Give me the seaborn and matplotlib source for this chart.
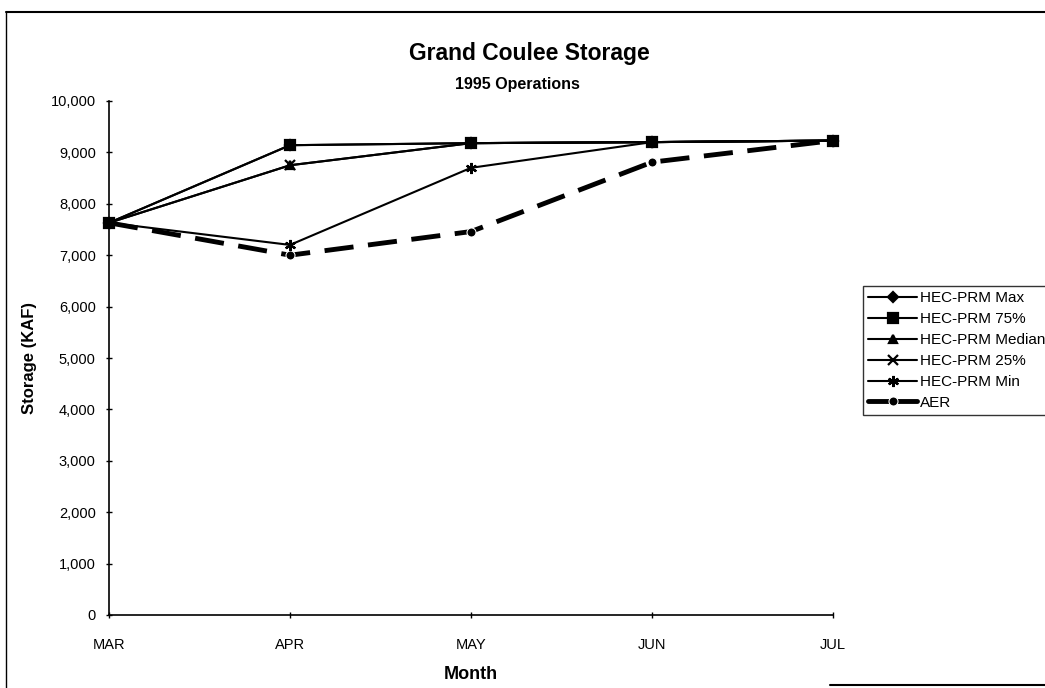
import matplotlib
matplotlib.use("Agg")
import matplotlib.pyplot as plt
from matplotlib.lines import Line2D
import seaborn as sns

months = ["MAR", "APR", "MAY", "JUN", "JUL"]
hec_max = [7630, 9140, 9180, 9200, 9230]
hec_75 = [7630, 9140, 9180, 9200, 9230]
hec_median = [7630, 8750, 9180, 9200, 9230]
hec_25 = [7630, 8750, 9180, 9200, 9230]
hec_min = [7630, 7200, 8700, 9200, 9230]
aer = [7630, 7000, 7460, 8810, 9230]

sns.set_style("white")
plt.rcParams["font.family"] = ["Liberation Sans", "DejaVu Sans"]
for k in ["text.color", "axes.labelcolor", "xtick.color", "ytick.color"]:
    plt.rcParams[k] = "black"

fig = plt.figure(figsize=(10.45, 6.88), dpi=100)
ax = fig.add_axes([109 / 1045, 1 - 615 / 688, (833 - 109) / 1045, (615 - 101) / 688])

x = list(range(len(months)))
series = [
    ("HEC-PRM Max", hec_max, "D", 5),
    ("HEC-PRM 75%", hec_75, "s", 6.5),
    ("HEC-PRM Median", hec_median, "^", 6),
    ("HEC-PRM 25%", hec_25, "x", 7),
    ("HEC-PRM Min", hec_min, (6, 2, 0), 8),
]
for name, vals, mk, ms in series:
    sns.lineplot(x=x, y=vals, ax=ax, color="black", lw=1.5, marker=mk,
                 markersize=ms, markeredgecolor="black", markeredgewidth=1.6,
                 label=name, clip_on=False, zorder=3)
sns.lineplot(x=x, y=aer, ax=ax, color="black", lw=3.5, marker="o",
             markersize=6.5, linestyle=(0, (6, 3)), label="AER", clip_on=False,
             zorder=2)

ax.set_xlim(0, 4)
ax.set_ylim(0, 10000)
ax.set_xticks(x)
ax.set_xticklabels(months, fontsize=10.5)
ax.set_yticks(range(0, 10001, 1000))
ax.set_yticklabels([f"{v:,}" for v in range(0, 10001, 1000)], fontsize=10.5)
ax.tick_params(axis="y", direction="inout", length=5, width=1, left=True, pad=7)
ax.tick_params(axis="x", direction="inout", length=5, width=1, bottom=True, pad=14)
for s in ["top", "right"]:
    ax.spines[s].set_visible(False)
for s in ["left", "bottom"]:
    ax.spines[s].set_color("black")
    ax.spines[s].set_linewidth(1.2)

ax.set_xlabel("Month", fontsize=13, fontweight="bold", labelpad=10)
ax.set_ylabel("Storage (KAF)", fontsize=12, fontweight="bold", labelpad=10)
fig.text(0.507, 1 - 60 / 688, "Grand Coulee Storage", ha="center", va="baseline",
         fontsize=16.5, fontweight="bold")
fig.text(0.495, 1 - 89 / 688, "1995 Operations", ha="center", va="baseline",
         fontsize=11.5, fontweight="bold")

leg = ax.legend(loc="upper left", bbox_to_anchor=(863 / 1045, 1 - 286 / 688),
                bbox_transform=fig.transFigure, fontsize=11, frameon=True,
                fancybox=False, edgecolor="black", handlelength=3.2,
                handletextpad=0.2, borderpad=0.35, labelspacing=0.45,
                borderaxespad=0)
leg.get_frame().set_linewidth(1)
leg.get_lines()[-1].set_linestyle("-")

# scanned page border
fig.add_artist(Line2D([6 / 1045, 6 / 1045], [0, 1 - 12 / 688], color="black", lw=1))
fig.add_artist(Line2D([6 / 1045, 1], [1 - 12 / 688, 1 - 12 / 688], color="black", lw=1.5))
fig.add_artist(Line2D([830 / 1045, 1], [1 - 685 / 688, 1 - 685 / 688], color="black", lw=1.5))

fig.savefig("out.png", dpi=100)
